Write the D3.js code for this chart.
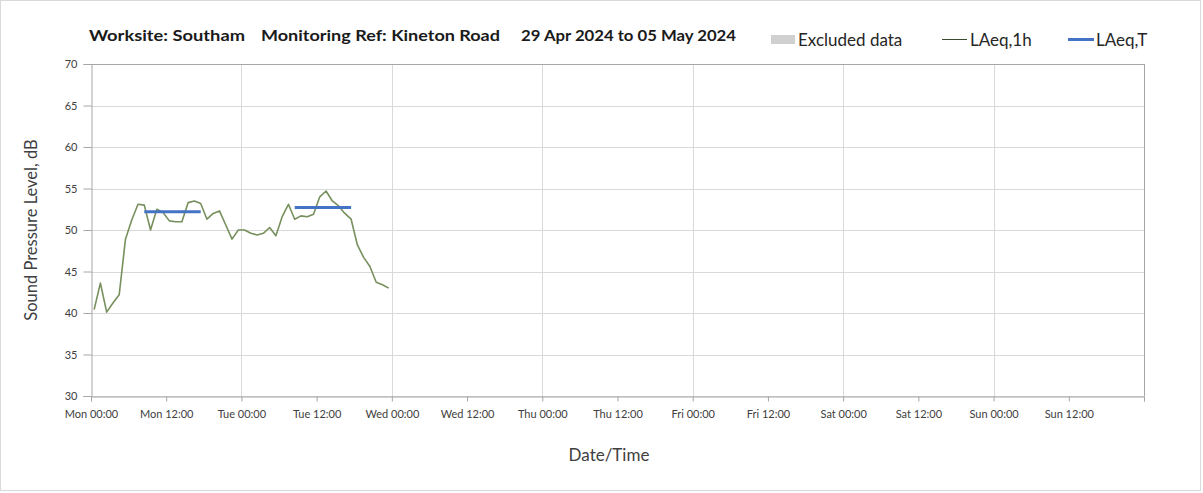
<!DOCTYPE html>
<html>
<head>
<meta charset="utf-8">
<script src="https://cdn.jsdelivr.net/npm/d3@7"></script>
<style>
  html, body { margin: 0; padding: 0; background: #fff; }
  svg { display: block; font-family: Lato, "Noto Sans", sans-serif; }
</style>
</head>
<body>
<svg id="chart" width="1203" height="493"></svg>
<script>
// Hourly LAeq values (dB), one per hour starting Mon 29 Apr 2024 00:00
const startDate = new Date(2024, 3, 29, 0, 0);
const laeq1h = [
  40.4, 43.6, 40.1, 41.2, 42.2, 48.9, 51.2, 53.1, 53.0, 50.0,
  52.5, 52.1, 51.1, 51.0, 51.0, 53.3, 53.5, 53.2, 51.3, 52.0,
  52.3, 50.6, 48.9, 50.0, 50.0, 49.6, 49.4, 49.6, 50.3, 49.3,
  51.6, 53.1, 51.3, 51.7, 51.6, 51.9, 54.0, 54.7, 53.5, 52.9,
  52.0, 51.3, 48.2, 46.7, 45.6, 43.7, 43.4, 43.0
];
// Working-period LAeq,T: [first hour index, last hour index, level]
const laeqTPeriods = [
  [8, 17, 52.2],
  [32, 41, 52.7]
];
const yTicks = [30, 35, 40, 45, 50, 55, 60, 65, 70];
const dayNames = ["Mon", "Tue", "Wed", "Thu", "Fri", "Sat", "Sun"];
const titleParts = ["Worksite: Southam", "Monitoring Ref: Kineton Road", "29 Apr 2024 to 05 May 2024"];

const hourMs = 3600 * 1000;
// each hourly value is plotted at the middle of its hour
const hourTime = i => new Date(startDate.getTime() + (i + 0.5) * hourMs);
const series = laeq1h.map((v, i) => ({ t: hourTime(i), v }));

const svg = d3.select("#chart");
const m = { left: 91, right: 1144, top: 64, bottom: 396 };

// outer frame
svg.append("rect").attr("x", 0.5).attr("y", 0.5).attr("width", 1200).attr("height", 490)
  .attr("fill", "#fff").attr("stroke", "#d9d9d9");

const endDate = new Date(startDate.getTime() + 7 * 24 * hourMs);
const x = d3.scaleTime().domain([startDate, endDate]).range([m.left, m.right]);
const y = d3.scaleLinear().domain([30, 70]).range([m.bottom, m.top]);

const dayTicks = d3.range(0, 8).map(d => new Date(startDate.getTime() + d * 24 * hourMs));
const halfDayTicks = d3.range(0, 15).map(d => new Date(startDate.getTime() + d * 12 * hourMs));

// gridlines
const grid = svg.append("g");
grid.selectAll("line.h").data(yTicks).join("line")
  .attr("x1", m.left).attr("x2", m.right)
  .attr("y1", d => Math.round(y(d)) + 0.5).attr("y2", d => Math.round(y(d)) + 0.5)
  .attr("stroke", "#d9d9d9").attr("stroke-width", 1);
grid.selectAll("line.v").data(dayTicks.slice(1, 7)).join("line")
  .attr("x1", d => Math.round(x(d)) + 0.5).attr("x2", d => Math.round(x(d)) + 0.5)
  .attr("y1", m.top).attr("y2", m.bottom)
  .attr("stroke", "#d9d9d9").attr("stroke-width", 1);

// plot frame top/right
svg.append("line").attr("x1", m.left).attr("x2", m.right + 0.5).attr("y1", m.top + 0.5).attr("y2", m.top + 0.5)
  .attr("stroke", "#a6a6a6");
svg.append("line").attr("x1", m.right + 0.5).attr("x2", m.right + 0.5).attr("y1", m.top).attr("y2", m.bottom)
  .attr("stroke", "#a6a6a6");

// y axis
const yAxis = d3.axisLeft(y).tickValues(yTicks).tickSize(8).tickPadding(6).tickFormat(d3.format("d"));
const gy = svg.append("g").attr("transform", `translate(${m.left + 0.5},0)`).call(yAxis);
gy.select(".domain").attr("stroke", "#a6a6a6");
gy.selectAll(".tick line").attr("stroke", "#a6a6a6");
gy.selectAll(".tick text").attr("fill", "#404040").style("font-size", "11px").style("font-family", "Lato, sans-serif");

// x axis
const fmt = d => dayNames[Math.floor((d - startDate) / (24 * hourMs)) % 7] + " " + d3.timeFormat("%H:%M")(d);
const xAxis = d3.axisBottom(x).tickValues(halfDayTicks).tickSize(5).tickPadding(9)
  .tickFormat(d => (d >= endDate ? "" : fmt(d)));
const gx = svg.append("g").attr("transform", `translate(0,${m.bottom + 0.5})`).call(xAxis);
gx.select(".domain").attr("stroke", "#a6a6a6");
gx.selectAll(".tick line").attr("stroke", "#a6a6a6");
gx.selectAll(".tick text").attr("fill", "#404040").style("font-size", "11px").style("font-family", "Lato, sans-serif");

// LAeq,1h line
const line = d3.line().x(d => x(d.t)).y(d => y(d.v));
svg.append("path").datum(series).attr("d", line)
  .attr("fill", "none").attr("stroke", "#77905d").attr("stroke-width", 1.6).attr("stroke-linejoin", "round");

// LAeq,T segments
svg.append("g").selectAll("line").data(laeqTPeriods).join("line")
  .attr("x1", d => x(hourTime(d[0]))).attr("x2", d => x(hourTime(d[1])))
  .attr("y1", d => y(d[2])).attr("y2", d => y(d[2]))
  .attr("stroke", "#4472c4").attr("stroke-width", 3);

// axis titles
svg.append("text").attr("transform", "translate(37,230) rotate(-90)")
  .attr("text-anchor", "middle").attr("fill", "#404040").style("font-size", "16.5px")
  .text("Sound Pressure Level, dB");
svg.append("text").attr("x", 609).attr("y", 461).attr("text-anchor", "middle")
  .attr("fill", "#404040").style("font-size", "17px").text("Date/Time");

// title
const titleX = [89, 261, 521];
const titleW = [156, 239, 215];
svg.append("g").selectAll("text").data(titleParts).join("text")
  .attr("x", (d, i) => titleX[i]).attr("y", 41)
  .attr("textLength", (d, i) => titleW[i]).attr("lengthAdjust", "spacingAndGlyphs")
  .attr("fill", "#1a1a1a").style("font-size", "15.5px").style("font-weight", "bold")
  .text(d => d);

// legend
const lg = svg.append("g").style("font-size", "17px").attr("fill", "#262626");
lg.append("rect").attr("x", 771).attr("y", 35).attr("width", 24).attr("height", 9).attr("fill", "#d0d0d0");
lg.append("text").attr("x", 798).attr("y", 46).text("Excluded data");
lg.append("line").attr("x1", 942).attr("x2", 967).attr("y1", 39.5).attr("y2", 39.5).attr("stroke", "#3b4a2c").attr("stroke-width", 1);
lg.append("text").attr("x", 970).attr("y", 46).text("LAeq,1h");
lg.append("line").attr("x1", 1068).attr("x2", 1094).attr("y1", 39.5).attr("y2", 39.5).attr("stroke", "#4472c4").attr("stroke-width", 3);
lg.append("text").attr("x", 1096).attr("y", 46).text("LAeq,T");
</script>
</body>
</html>
